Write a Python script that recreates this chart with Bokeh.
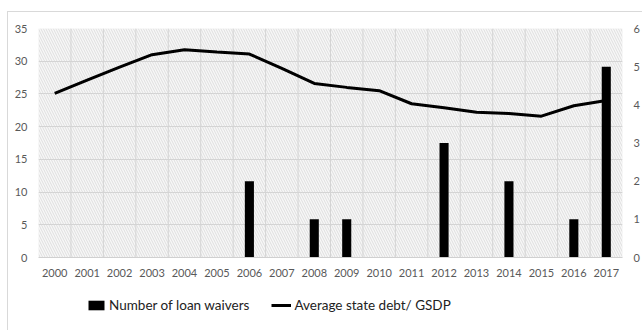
from bokeh.plotting import figure
from bokeh.layouts import column
from bokeh.models import Range1d, LinearAxis, Legend, LegendItem, BoxAnnotation, FixedTicker, Span
from bokeh.embed import file_html
from bokeh.resources import INLINE

years = [str(y) for y in range(2000, 2018)]
waivers = [0, 0, 0, 0, 0, 0, 2, 0, 1, 1, 0, 0, 3, 0, 2, 0, 1, 5]
debt = [25.1, 27.1, 29.1, 31.0, 31.75, 31.4, 31.1, 28.9, 26.6, 26.0, 25.5,
        23.5, 22.9, 22.2, 22.0, 21.6, 23.2, 24.0]
left_ticks = [0, 5, 10, 15, 20, 25, 30, 35]
right_ticks = [0, 1, 2, 3, 4, 5, 6]
series_names = ["Number of loan waivers", "Average state debt/ GSDP"]

FONT = "Lato"
GRAY = "#595959"

p = figure(x_range=years, y_range=Range1d(0, 35), width=634, height=271,
           output_backend="svg", toolbar_location=None,
           min_border_left=30, min_border_right=20, min_border_top=16, min_border_bottom=26)
p.outline_line_color = None
p.background_fill_color = "#f7f7f7"
p.extra_y_ranges = {"right": Range1d(0, 6)}

bg = BoxAnnotation(fill_color="#f7f7f7", fill_alpha=1, line_color=None,
                   hatch_pattern="\\", hatch_color="#d8d8d8", hatch_scale=5,
                   hatch_weight=0.8, level="image")
p.add_layout(bg)

bars = p.vbar(x=years, top=waivers, width=0.28, color="black", line_color=None,
              y_range_name="right")
line = p.line(x=years, y=debt, line_color="black", line_width=3)

p.ygrid.ticker = FixedTicker(ticks=left_ticks)
p.ygrid.grid_line_color = "#d4d4d4"
p.xgrid.grid_line_color = None
p.xaxis.major_tick_line_color = None
p.xaxis.minor_tick_line_color = None

for i in range(1, len(years)):
    p.add_layout(Span(location=i, dimension="height", line_color="#d4d4d4",
                      line_width=1, level="underlay"))

p.yaxis.ticker = FixedTicker(ticks=left_ticks)
p.yaxis.axis_line_color = None
p.yaxis.major_tick_line_color = None
p.yaxis.minor_tick_line_color = None
p.xaxis.axis_line_color = "#d0d0d0"

ax2 = LinearAxis(y_range_name="right", ticker=FixedTicker(ticks=right_ticks))
ax2.axis_line_color = None
ax2.major_tick_line_color = None
ax2.minor_tick_line_color = None
p.add_layout(ax2, "right")

for ax in [p.xaxis[0], p.yaxis[0], ax2]:
    ax.major_label_text_font = FONT
    ax.major_label_text_font_size = "11px"
    ax.major_label_text_color = GRAY

# legend strip below the chart (proxy renderers lie outside the visible range)
p2 = figure(width=634, height=47, output_backend="svg", toolbar_location=None,
            x_range=Range1d(0, 1), y_range=Range1d(0, 1),
            x_axis_location=None, y_axis_location=None,
            min_border=0, min_border_left=0, min_border_right=0,
            min_border_top=0, min_border_bottom=0)
p2.grid.visible = False
p2.outline_line_color = None
lb = p2.vbar(x=[-5], top=[-5], width=0.3, color="black", line_color=None)
ll = p2.line(x=[-5, -4], y=[-5, -5], line_color="black", line_width=3)
legend = Legend(items=[LegendItem(label=series_names[0], renderers=[lb]),
                       LegendItem(label=series_names[1], renderers=[ll])],
                orientation="horizontal", location=(48, 15),
                label_text_font=FONT, label_text_font_size="13.5px",
                label_text_color="#222222", border_line_color=None,
                background_fill_alpha=0, glyph_width=20, glyph_height=12,
                label_height=20, spacing=22, padding=0, margin=0, label_standoff=3)
p2.add_layout(legend, "center")

layout = column(p, p2, spacing=0, margin=(11, 0, 0, 7),
                styles={"border-left": "1px solid #d9d9d9", "border-top": "1px solid #d9d9d9",
                        "background": "white"})

open("out.html", "w").write(file_html(layout, INLINE))
